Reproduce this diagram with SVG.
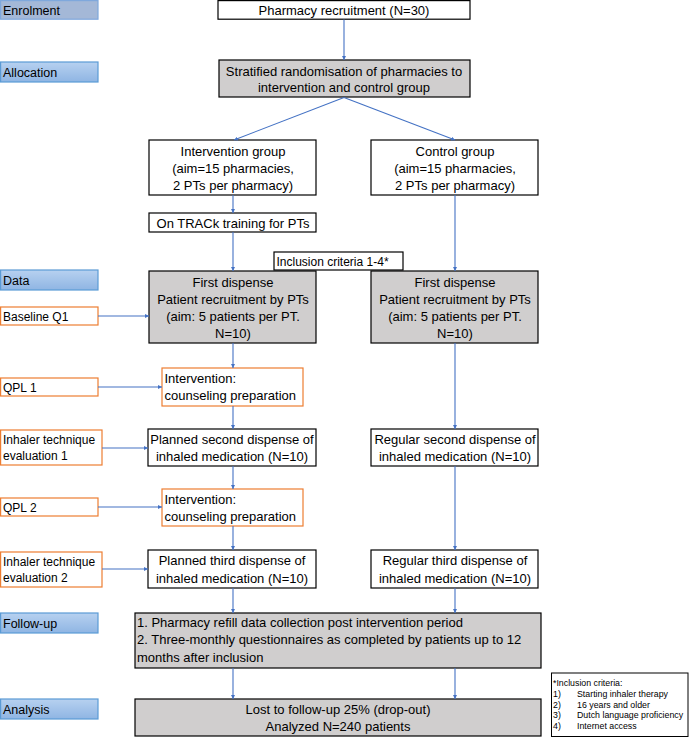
<svg xmlns="http://www.w3.org/2000/svg" width="689" height="737" viewBox="0 0 689 737">
<defs>
<linearGradient id="lg" x1="0" y1="0" x2="0" y2="1">
<stop offset="0" stop-color="#B7D1F0"/>
<stop offset="1" stop-color="#8FB5E3"/>
</linearGradient>
<marker id="ah" viewBox="0 0 6 6" refX="6" refY="3" markerWidth="4" markerHeight="4" orient="auto" markerUnits="userSpaceOnUse">
<path d="M0,0 L6,3 L0,6 z" fill="#4472C4"/>
</marker>
<style>
text{font-family:"Liberation Sans",Arial,sans-serif;fill:#000}
.t{font-size:13px;text-anchor:middle}
.tl{font-size:13px}
.lab{font-size:12.5px}
.sl{font-size:12px}
.note{font-size:8.8px}
.phase{fill:url(#lg);stroke:#5B9BD5;stroke-width:1.2}
.w{fill:#fff;stroke:#000;stroke-width:1.2}
.g{fill:#D0CECE;stroke:#000;stroke-width:1.2}
.o{fill:#fff;stroke:#ED7D31;stroke-width:1.2}
.c{stroke:#4472C4;stroke-width:1.1;fill:none;marker-end:url(#ah)}
</style>
</defs>
<rect width="689" height="737" fill="#fff"/>

<g id="phase-enrolment"><rect x="0.6" y="0.6" width="97.4" height="18.6" fill="#A4B8D7" stroke="#7FA8DC" stroke-width="1.2"/><text class="lab" x="3" y="14.5">Enrolment</text></g>
<g id="phase-allocation"><rect class="phase" x="0.6" y="62" width="97.4" height="20"/><text class="lab" x="3" y="76.5">Allocation</text></g>
<g id="phase-data"><rect class="phase" x="0.6" y="270" width="97.4" height="20"/><text class="lab" x="3" y="284.5">Data</text></g>
<g id="phase-followup"><rect class="phase" x="0.6" y="613" width="97.4" height="20"/><text class="lab" x="3" y="627.5">Follow-up</text></g>
<g id="phase-analysis"><rect class="phase" x="0.6" y="699" width="97.4" height="20"/><text class="lab" x="3" y="713.5">Analysis</text></g>

<g id="baseline-q1"><rect class="o" x="0.6" y="307" width="97.4" height="18"/><text class="sl" x="3" y="320.5">Baseline Q1</text></g>
<g id="qpl1"><rect class="o" x="0.6" y="378" width="97.4" height="18"/><text class="sl" x="3" y="391.5">QPL 1</text></g>
<g id="inhaler-eval1"><rect class="o" x="0.6" y="430" width="101.4" height="35"/><text class="sl" x="3" y="444">Inhaler technique</text><text class="sl" x="3" y="460">evaluation 1</text></g>
<g id="qpl2"><rect class="o" x="0.6" y="498" width="97.4" height="18"/><text class="sl" x="3" y="511.5">QPL 2</text></g>
<g id="inhaler-eval2"><rect class="o" x="0.6" y="552" width="101.4" height="35"/><text class="sl" x="3" y="566">Inhaler technique</text><text class="sl" x="3" y="582">evaluation 2</text></g>

<g id="pharmacy-recruitment"><rect class="w" x="218" y="0.6" width="252" height="18.6"/><text class="t" x="344" y="15">Pharmacy recruitment (N=30)</text></g>
<g id="randomisation"><rect class="g" x="219" y="60" width="251" height="37"/><text class="t" x="344" y="75.5">Stratified randomisation of pharmacies to</text><text class="t" x="344" y="91.5">intervention and control group</text></g>
<g id="intervention-group"><rect class="w" x="149" y="140" width="167" height="55"/><text class="t" x="233" y="155.5">Intervention group</text><text class="t" x="233" y="172.5">(aim=15 pharmacies,</text><text class="t" x="233" y="189.5">2 PTs per pharmacy)</text></g>
<g id="control-group"><rect class="w" x="371" y="140" width="167" height="55"/><text class="t" x="455" y="155.5">Control group</text><text class="t" x="455" y="172.5">(aim=15 pharmacies,</text><text class="t" x="455" y="189.5">2 PTs per pharmacy)</text></g>
<g id="training"><rect class="w" x="149" y="213" width="167" height="19"/><text class="t" x="233" y="227.5">On TRACk training for PTs</text></g>
<g id="first-dispense-int"><rect class="g" x="149" y="271" width="167" height="72"/><text class="t" x="233" y="286.5">First dispense</text><text class="t" x="233" y="303.5">Patient recruitment by PTs</text><text class="t" x="233" y="320.5">(aim: 5 patients per PT.</text><text class="t" x="233" y="337.5">N=10)</text></g>
<g id="first-dispense-ctrl"><rect class="g" x="371" y="271" width="167" height="72"/><text class="t" x="455" y="286.5">First dispense</text><text class="t" x="455" y="303.5">Patient recruitment by PTs</text><text class="t" x="455" y="320.5">(aim: 5 patients per PT.</text><text class="t" x="455" y="337.5">N=10)</text></g>
<g id="inclusion-label"><rect class="w" x="274" y="252" width="129" height="18"/><text class="sl" x="276.5" y="266">Inclusion criteria 1-4*</text></g>
<g id="intervention-1"><rect class="o" x="162" y="368" width="141" height="38"/><text class="tl" x="164.5" y="382.5">Intervention:</text><text class="tl" x="164.5" y="399.5">counseling preparation</text></g>
<g id="planned-second"><rect class="w" x="148" y="429" width="168" height="37"/><text class="t" x="232" y="443.5">Planned second dispense of</text><text class="t" x="232" y="461">inhaled medication (N=10)</text></g>
<g id="regular-second"><rect class="w" x="371" y="429" width="167" height="37"/><text class="t" x="455" y="443.5">Regular second dispense of</text><text class="t" x="455" y="461">inhaled medication (N=10)</text></g>
<g id="intervention-2"><rect class="o" x="162" y="489" width="141" height="37"/><text class="tl" x="164.5" y="503.5">Intervention:</text><text class="tl" x="164.5" y="520.5">counseling preparation</text></g>
<g id="planned-third"><rect class="w" x="148" y="550" width="168" height="38"/><text class="t" x="232" y="565">Planned third dispense of</text><text class="t" x="232" y="582.5">inhaled medication (N=10)</text></g>
<g id="regular-third"><rect class="w" x="371" y="550" width="167" height="38"/><text class="t" x="455" y="565">Regular third dispense of</text><text class="t" x="455" y="582.5">inhaled medication (N=10)</text></g>
<g id="follow-up"><rect class="g" x="135" y="613" width="406" height="55"/><text class="tl" x="137" y="626.5">1. Pharmacy refill data collection post intervention period</text><text class="tl" x="137" y="644">2. Three-monthly questionnaires as completed by patients up to 12</text><text class="tl" x="137" y="661.5">months after inclusion</text></g>
<g id="analysis"><rect class="g" x="135" y="699" width="406" height="37"/><text class="t" x="338" y="714">Lost to follow-up 25% (drop-out)</text><text class="t" x="338" y="731">Analyzed N=240 patients</text></g>
<g id="inclusion-note"><rect x="551.5" y="673" width="136.5" height="63.5" fill="#fff" stroke="#000" stroke-width="1"/>
<text class="note" x="553" y="686">*Inclusion criteria:</text>
<text class="note" x="553" y="697">1)</text><text class="note" x="577" y="697">Starting inhaler therapy</text>
<text class="note" x="553" y="707.5">2)</text><text class="note" x="577" y="707.5">16 years and older</text>
<text class="note" x="553" y="718">3)</text><text class="note" x="577" y="718">Dutch language proficiency</text>
<text class="note" x="553" y="728.5">4)</text><text class="note" x="577" y="728.5">Internet access</text></g>

<g id="connectors">
<line class="c" x1="344" y1="19.5" x2="344" y2="60"/>
<line class="c" x1="344" y1="97.5" x2="234" y2="140"/>
<line class="c" x1="344" y1="97.5" x2="455" y2="140"/>
<line class="c" x1="233" y1="195" x2="233" y2="213"/>
<line class="c" x1="233" y1="232" x2="233" y2="271"/>
<line class="c" x1="455" y1="195" x2="455" y2="271"/>
<line class="c" x1="98" y1="316" x2="149" y2="316"/>
<line class="c" x1="233" y1="343" x2="233" y2="368"/>
<line class="c" x1="98" y1="387" x2="162" y2="387"/>
<line class="c" x1="233" y1="406" x2="233" y2="429"/>
<line class="c" x1="102" y1="448" x2="148" y2="448"/>
<line class="c" x1="233" y1="466" x2="233" y2="489"/>
<line class="c" x1="98" y1="507" x2="162" y2="507"/>
<line class="c" x1="233" y1="526" x2="233" y2="550"/>
<line class="c" x1="102" y1="569" x2="148" y2="569"/>
<line class="c" x1="233" y1="588" x2="233" y2="613"/>
<line class="c" x1="455" y1="343" x2="455" y2="429"/>
<line class="c" x1="455" y1="466" x2="455" y2="550"/>
<line class="c" x1="455" y1="588" x2="455" y2="613"/>
<line class="c" x1="233" y1="668" x2="233" y2="699"/>
<line class="c" x1="455" y1="668" x2="455" y2="699"/>
</g>
</svg>
